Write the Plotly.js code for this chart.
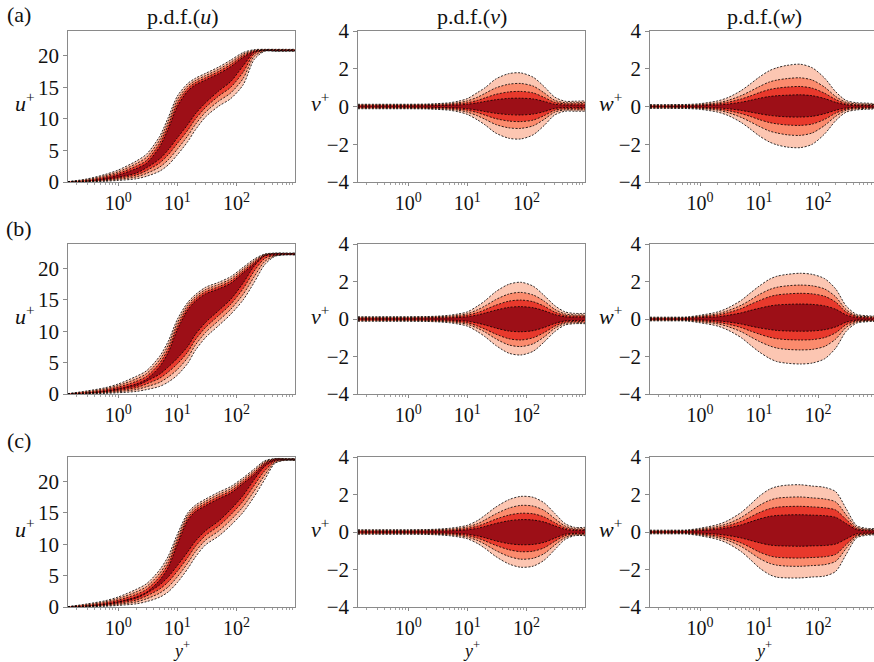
<!DOCTYPE html>
<html>
<head>
<meta charset="utf-8">
<script src="https://cdn.plot.ly/plotly-3.0.1.min.js"></script>
<style>html,body{margin:0;padding:0;background:#fff;}#chart{width:874px;height:662px;}</style>
</head>
<body>
<div id="chart"></div>
<script>
// wall distance grid y+
const yPlus = [0.14,0.3,0.6,1,2,3,5,7,10,15,20,30,50,80,130,200,300,450,650,1000];

// ---- row (a) ----
const au_hi4 = [0.05,0.5,1.2,1.9,3.3,4.4,7.2,10.2,13.6,15.6,16.4,17.2,18.2,19.3,20.5,20.95,21.0,21.0,21.0,21.0];
const au_hi3 = [0.05,0.38,1.0,1.62,2.9,3.9,6.65,9.6,13.05,15.2,16.05,16.85,17.85,18.95,20.25,20.85,20.96,20.96,20.96,20.96];
const au_hi2 = [0.05,0.26,0.8,1.35,2.5,3.4,6.1,9.0,12.5,14.8,15.7,16.5,17.5,18.6,20.0,20.75,20.92,20.92,20.92,20.92];
const au_hi1 = [0.05,0.16,0.6,1.1,2.1,2.95,5.55,8.4,11.95,14.4,15.35,16.15,17.15,18.25,19.75,20.65,20.88,20.88,20.88,20.88];
const au_lo4 = [0,0.03,0.12,0.25,0.5,0.9,1.7,2.7,4.3,6.4,8.2,10.3,12.0,13.2,15.4,19.4,20.7,20.7,20.7,20.7];
const au_lo3 = [0,0.07,0.22,0.42,0.8,1.35,2.35,3.5,5.2,7.3,9.05,11.05,12.8,14.1,16.4,19.9,20.75,20.74,20.74,20.74];
const au_lo2 = [0,0.11,0.32,0.59,1.1,1.8,3.0,4.3,6.1,8.2,9.9,11.8,13.6,15.0,17.4,20.3,20.8,20.78,20.78,20.78];
const au_lo1 = [0,0.15,0.42,0.76,1.4,2.25,3.65,5.1,7.0,9.1,10.75,12.55,14.4,15.9,18.4,20.55,20.84,20.82,20.82,20.82];

const av_hi4 = [0.12,0.12,0.12,0.12,0.13,0.15,0.2,0.28,0.42,0.75,1.0,1.45,1.74,1.78,1.55,1.05,0.5,0.28,0.28,0.3];
const av_hi3 = [0.09,0.09,0.09,0.09,0.1,0.12,0.15,0.2,0.3,0.5,0.7,0.98,1.18,1.22,1.08,0.72,0.33,0.2,0.2,0.22];
const av_hi2 = [0.06,0.06,0.06,0.06,0.07,0.08,0.1,0.14,0.2,0.33,0.46,0.64,0.77,0.8,0.72,0.48,0.22,0.14,0.14,0.15];
const av_hi1 = [0.03,0.03,0.03,0.03,0.04,0.05,0.06,0.08,0.12,0.2,0.27,0.36,0.43,0.44,0.4,0.27,0.12,0.08,0.08,0.08];
const av_lo4 = [-0.12,-0.12,-0.12,-0.12,-0.13,-0.15,-0.2,-0.28,-0.42,-0.72,-0.98,-1.4,-1.68,-1.72,-1.5,-1.0,-0.45,-0.25,-0.25,-0.25];
const av_lo3 = [-0.09,-0.09,-0.09,-0.09,-0.1,-0.12,-0.15,-0.2,-0.3,-0.5,-0.68,-0.95,-1.13,-1.16,-1.02,-0.68,-0.3,-0.18,-0.18,-0.18];
const av_lo2 = [-0.06,-0.06,-0.06,-0.06,-0.07,-0.08,-0.1,-0.14,-0.2,-0.33,-0.46,-0.64,-0.77,-0.8,-0.72,-0.48,-0.2,-0.12,-0.12,-0.12];
const av_lo1 = [-0.03,-0.03,-0.03,-0.03,-0.04,-0.05,-0.06,-0.08,-0.12,-0.2,-0.27,-0.36,-0.43,-0.45,-0.4,-0.27,-0.1,-0.06,-0.06,-0.06];

const aw_hi4 = [0.1,0.1,0.11,0.15,0.3,0.48,0.85,1.18,1.55,1.9,2.05,2.18,2.24,2.05,1.5,0.78,0.32,0.2,0.18,0.15];
const aw_hi3 = [0.07,0.07,0.08,0.1,0.2,0.33,0.58,0.8,1.05,1.3,1.4,1.48,1.52,1.4,1.02,0.53,0.22,0.14,0.12,0.1];
const aw_hi2 = [0.04,0.04,0.05,0.07,0.14,0.23,0.4,0.55,0.73,0.9,0.97,1.03,1.06,0.97,0.7,0.37,0.15,0.09,0.08,0.07];
const aw_hi1 = [0.02,0.02,0.03,0.04,0.08,0.13,0.23,0.32,0.43,0.53,0.57,0.6,0.62,0.57,0.42,0.22,0.09,0.05,0.05,0.04];
const aw_lo4 = [-0.1,-0.1,-0.11,-0.15,-0.3,-0.48,-0.85,-1.18,-1.55,-1.88,-2.03,-2.15,-2.18,-2.0,-1.45,-0.75,-0.3,-0.18,-0.15,-0.12];
const aw_lo3 = [-0.07,-0.07,-0.08,-0.1,-0.2,-0.33,-0.58,-0.8,-1.05,-1.3,-1.4,-1.5,-1.53,-1.4,-1.0,-0.52,-0.2,-0.12,-0.1,-0.08];
const aw_lo2 = [-0.04,-0.04,-0.05,-0.07,-0.14,-0.22,-0.38,-0.52,-0.69,-0.85,-0.92,-0.98,-1.0,-0.93,-0.68,-0.35,-0.14,-0.08,-0.07,-0.06];
const aw_lo1 = [-0.02,-0.02,-0.03,-0.04,-0.08,-0.12,-0.21,-0.29,-0.38,-0.47,-0.51,-0.55,-0.56,-0.52,-0.38,-0.2,-0.08,-0.04,-0.04,-0.03];

// ---- row (b) ----
const bu_hi4 = [0.05,0.5,1.0,1.6,2.8,3.7,6.0,8.4,11.9,14.6,15.8,17.0,17.8,18.7,20.2,21.5,22.3,22.45,22.45,22.45];
const bu_hi3 = [0.05,0.38,0.82,1.35,2.4,3.25,5.45,7.8,11.35,14.2,15.45,16.65,17.45,18.35,19.9,21.25,22.22,22.42,22.42,22.42];
const bu_hi2 = [0.05,0.26,0.64,1.1,2.0,2.8,4.9,7.2,10.8,13.8,15.1,16.3,17.1,18.0,19.6,21.0,22.14,22.38,22.38,22.38];
const bu_hi1 = [0.05,0.16,0.46,0.85,1.6,2.35,4.35,6.6,10.25,13.4,14.75,15.95,16.75,17.65,19.3,20.75,22.06,22.34,22.34,22.34];
const bu_lo4 = [0,0.03,0.1,0.2,0.4,0.7,1.2,1.9,3.0,4.9,6.9,9.0,10.9,12.7,15.0,17.8,20.6,21.95,22.15,22.15];
const bu_lo3 = [0,0.07,0.2,0.37,0.7,1.15,1.85,2.7,3.9,5.8,7.75,9.8,11.7,13.5,15.9,18.7,21.1,22.02,22.19,22.19];
const bu_lo2 = [0,0.11,0.3,0.54,1.0,1.6,2.5,3.5,4.8,6.7,8.6,10.6,12.5,14.3,16.8,19.6,21.6,22.09,22.23,22.23];
const bu_lo1 = [0,0.15,0.4,0.71,1.3,2.05,3.15,4.3,5.7,7.6,9.45,11.4,13.3,15.1,17.7,20.4,22.0,22.16,22.27,22.27];

const bv_hi4 = [0.12,0.12,0.12,0.12,0.13,0.15,0.2,0.27,0.38,0.7,0.98,1.45,1.85,1.96,1.75,1.25,0.72,0.38,0.3,0.3];
const bv_hi3 = [0.09,0.09,0.09,0.09,0.1,0.12,0.15,0.2,0.28,0.5,0.7,1.03,1.33,1.42,1.28,0.95,0.52,0.27,0.22,0.22];
const bv_hi2 = [0.06,0.06,0.06,0.06,0.07,0.08,0.1,0.14,0.2,0.35,0.5,0.73,0.95,1.01,0.92,0.68,0.37,0.19,0.16,0.16];
const bv_hi1 = [0.03,0.03,0.03,0.03,0.04,0.05,0.06,0.08,0.12,0.22,0.32,0.47,0.62,0.66,0.6,0.44,0.24,0.12,0.1,0.1];
const bv_lo4 = [-0.12,-0.12,-0.12,-0.12,-0.13,-0.15,-0.2,-0.27,-0.38,-0.68,-0.95,-1.4,-1.82,-1.92,-1.72,-1.22,-0.68,-0.32,-0.25,-0.25];
const bv_lo3 = [-0.09,-0.09,-0.09,-0.09,-0.1,-0.12,-0.15,-0.2,-0.28,-0.5,-0.7,-1.05,-1.38,-1.47,-1.32,-0.95,-0.5,-0.24,-0.2,-0.2];
const bv_lo2 = [-0.06,-0.06,-0.06,-0.06,-0.07,-0.08,-0.1,-0.14,-0.2,-0.38,-0.54,-0.8,-1.05,-1.12,-1.0,-0.72,-0.38,-0.17,-0.14,-0.14];
const bv_lo1 = [-0.03,-0.03,-0.03,-0.03,-0.04,-0.05,-0.06,-0.08,-0.12,-0.22,-0.32,-0.48,-0.64,-0.68,-0.62,-0.45,-0.24,-0.1,-0.08,-0.08];

const bw_hi4 = [0.1,0.1,0.11,0.2,0.38,0.6,1.0,1.37,1.75,2.12,2.28,2.38,2.44,2.38,2.15,1.6,0.7,0.25,0.18,0.15];
const bw_hi3 = [0.07,0.07,0.08,0.15,0.28,0.45,0.74,1.0,1.3,1.57,1.69,1.77,1.81,1.77,1.6,1.18,0.5,0.18,0.13,0.11];
const bw_hi2 = [0.04,0.04,0.06,0.11,0.21,0.34,0.56,0.77,0.98,1.19,1.28,1.34,1.37,1.34,1.21,0.9,0.37,0.14,0.1,0.08];
const bw_hi1 = [0.02,0.02,0.03,0.07,0.12,0.2,0.33,0.45,0.57,0.69,0.75,0.78,0.8,0.78,0.7,0.52,0.22,0.08,0.06,0.05];
const bw_lo4 = [-0.1,-0.1,-0.11,-0.2,-0.38,-0.6,-1.0,-1.37,-1.75,-2.1,-2.27,-2.36,-2.4,-2.35,-2.12,-1.55,-0.66,-0.22,-0.15,-0.12];
const bw_lo3 = [-0.07,-0.07,-0.08,-0.14,-0.26,-0.41,-0.68,-0.93,-1.19,-1.43,-1.55,-1.62,-1.65,-1.62,-1.46,-1.07,-0.45,-0.16,-0.11,-0.09];
const bw_lo2 = [-0.04,-0.04,-0.05,-0.09,-0.18,-0.28,-0.46,-0.63,-0.8,-0.97,-1.05,-1.1,-1.12,-1.1,-0.99,-0.73,-0.3,-0.11,-0.08,-0.06];
const bw_lo1 = [-0.02,-0.02,-0.03,-0.05,-0.1,-0.16,-0.27,-0.37,-0.47,-0.56,-0.61,-0.64,-0.65,-0.64,-0.57,-0.42,-0.17,-0.06,-0.05,-0.04];

// ---- row (c) ----
const cu_hi4 = [0.05,0.5,1.0,1.6,2.8,3.7,5.9,8.1,11.6,15.0,16.2,17.2,18.3,19.2,20.6,22.0,23.3,23.65,23.65,23.65];
const cu_hi3 = [0.05,0.38,0.82,1.35,2.4,3.25,5.35,7.5,11.05,14.6,15.85,16.85,17.95,18.85,20.3,21.7,23.12,23.61,23.61,23.61];
const cu_hi2 = [0.05,0.26,0.64,1.1,2.0,2.8,4.8,6.9,10.5,14.2,15.5,16.5,17.6,18.5,20.0,21.4,22.94,23.57,23.57,23.57];
const cu_hi1 = [0.05,0.16,0.46,0.85,1.6,2.35,4.25,6.3,9.95,13.8,15.15,16.15,17.25,18.15,19.7,21.1,22.76,23.53,23.53,23.53];
const cu_lo4 = [0,0.03,0.12,0.25,0.5,0.85,1.55,2.4,3.9,6.1,7.9,9.9,11.3,13.0,15.1,17.6,20.3,22.9,23.35,23.35];
const cu_lo3 = [0,0.07,0.22,0.42,0.8,1.3,2.2,3.2,4.8,7.0,8.75,10.65,12.1,13.85,16.0,18.5,21.0,23.05,23.39,23.39];
const cu_lo2 = [0,0.11,0.32,0.59,1.1,1.75,2.85,4.0,5.7,7.9,9.6,11.4,12.9,14.7,16.9,19.4,21.7,23.2,23.43,23.43];
const cu_lo1 = [0,0.15,0.42,0.76,1.4,2.2,3.5,4.8,6.6,8.8,10.45,12.15,13.7,15.55,17.8,20.3,22.4,23.35,23.47,23.47];

const cv_hi4 = [0.12,0.12,0.12,0.12,0.13,0.15,0.2,0.26,0.36,0.62,0.9,1.32,1.72,1.9,1.85,1.55,1.0,0.45,0.25,0.25];
const cv_hi3 = [0.09,0.09,0.09,0.09,0.1,0.12,0.15,0.19,0.27,0.45,0.65,0.96,1.27,1.42,1.38,1.15,0.72,0.32,0.18,0.18];
const cv_hi2 = [0.06,0.06,0.06,0.06,0.07,0.08,0.1,0.13,0.19,0.32,0.46,0.68,0.9,1.0,0.97,0.8,0.5,0.22,0.13,0.13];
const cv_hi1 = [0.03,0.03,0.03,0.03,0.04,0.05,0.06,0.08,0.12,0.2,0.3,0.45,0.6,0.66,0.64,0.53,0.33,0.14,0.08,0.08];
const cv_lo4 = [-0.12,-0.12,-0.12,-0.12,-0.13,-0.15,-0.2,-0.26,-0.36,-0.62,-0.88,-1.3,-1.7,-1.88,-1.82,-1.5,-0.95,-0.4,-0.2,-0.2];
const cv_lo3 = [-0.09,-0.09,-0.09,-0.09,-0.1,-0.12,-0.15,-0.19,-0.27,-0.46,-0.66,-0.98,-1.3,-1.45,-1.4,-1.15,-0.7,-0.3,-0.16,-0.16];
const cv_lo2 = [-0.06,-0.06,-0.06,-0.06,-0.07,-0.08,-0.1,-0.13,-0.19,-0.33,-0.48,-0.71,-0.94,-1.05,-1.02,-0.84,-0.5,-0.2,-0.11,-0.11];
const cv_lo1 = [-0.03,-0.03,-0.03,-0.03,-0.04,-0.05,-0.06,-0.08,-0.12,-0.21,-0.31,-0.47,-0.62,-0.68,-0.66,-0.55,-0.33,-0.12,-0.07,-0.07];

const cw_hi4 = [0.1,0.1,0.11,0.2,0.4,0.62,1.05,1.45,1.9,2.28,2.42,2.5,2.52,2.45,2.38,2.15,1.25,0.35,0.2,0.18];
const cw_hi3 = [0.07,0.07,0.08,0.15,0.3,0.46,0.78,1.08,1.41,1.69,1.8,1.85,1.87,1.82,1.76,1.6,0.92,0.26,0.15,0.13];
const cw_hi2 = [0.04,0.04,0.06,0.11,0.22,0.34,0.57,0.79,1.03,1.24,1.32,1.36,1.37,1.34,1.29,1.17,0.67,0.19,0.11,0.1];
const cw_hi1 = [0.02,0.02,0.04,0.07,0.15,0.23,0.38,0.53,0.69,0.83,0.88,0.91,0.92,0.9,0.87,0.78,0.45,0.13,0.07,0.06];
const cw_lo4 = [-0.1,-0.1,-0.11,-0.2,-0.4,-0.62,-1.05,-1.45,-1.9,-2.27,-2.41,-2.45,-2.45,-2.4,-2.35,-2.1,-1.2,-0.32,-0.18,-0.15];
const cw_lo3 = [-0.07,-0.07,-0.08,-0.15,-0.3,-0.46,-0.78,-1.07,-1.4,-1.67,-1.77,-1.82,-1.83,-1.79,-1.74,-1.56,-0.88,-0.24,-0.13,-0.11];
const cw_lo2 = [-0.04,-0.04,-0.05,-0.11,-0.22,-0.35,-0.59,-0.81,-1.06,-1.27,-1.35,-1.38,-1.39,-1.36,-1.32,-1.19,-0.67,-0.18,-0.1,-0.08];
const cw_lo1 = [-0.02,-0.02,-0.03,-0.06,-0.12,-0.19,-0.32,-0.44,-0.57,-0.69,-0.73,-0.75,-0.76,-0.74,-0.72,-0.64,-0.37,-0.1,-0.06,-0.05];

// labels
const columnTitles = ['p.d.f.(<i>u</i>)', 'p.d.f.(<i>v</i>)', 'p.d.f.(<i>w</i>)'];
const yLabels = ['<i>u</i><sup>+</sup>', '<i>v</i><sup>+</sup>', '<i>w</i><sup>+</sup>'];
const xLabel = '<i>y</i><sup>+</sup>';
const rowLabels = ['(a)', '(b)', '(c)'];
const xTickVals = [1, 10, 100];
const xTickText = ['10<sup>0</sup>', '10<sup>1</sup>', '10<sup>2</sup>'];
const xMinorVals = [0.2,0.3,0.4,0.5,0.6,0.7,0.8,0.9,2,3,4,5,6,7,8,9,20,30,40,50,60,70,80,90,200,300,400,500,600,700,800,900];
const bandColors = ['#fcc6b2', '#fb8b6d', '#e8392c', '#9d0f17'];

// panels: bands outer..inner as [lo, hi]
const panels = [
  [[au_lo4,au_hi4],[au_lo3,au_hi3],[au_lo2,au_hi2],[au_lo1,au_hi1]],
  [[av_lo4,av_hi4],[av_lo3,av_hi3],[av_lo2,av_hi2],[av_lo1,av_hi1]],
  [[aw_lo4,aw_hi4],[aw_lo3,aw_hi3],[aw_lo2,aw_hi2],[aw_lo1,aw_hi1]],
  [[bu_lo4,bu_hi4],[bu_lo3,bu_hi3],[bu_lo2,bu_hi2],[bu_lo1,bu_hi1]],
  [[bv_lo4,bv_hi4],[bv_lo3,bv_hi3],[bv_lo2,bv_hi2],[bv_lo1,bv_hi1]],
  [[bw_lo4,bw_hi4],[bw_lo3,bw_hi3],[bw_lo2,bw_hi2],[bw_lo1,bw_hi1]],
  [[cu_lo4,cu_hi4],[cu_lo3,cu_hi3],[cu_lo2,cu_hi2],[cu_lo1,cu_hi1]],
  [[cv_lo4,cv_hi4],[cv_lo3,cv_hi3],[cv_lo2,cv_hi2],[cv_lo1,cv_hi1]],
  [[cw_lo4,cw_hi4],[cw_lo3,cw_hi3],[cw_lo2,cw_hi2],[cw_lo1,cw_hi1]]
];

const W = 874, H = 662;
const colPx = [[68, 295], [358, 585], [650, 874]];
const rowPx = [[31, 182], [244, 394], [457, 607]];
const FONT = 'Liberation Serif';
const TICK_SIZE = 20;
const LABEL_SIZE = 22;

const traces = [];
const dashLine = {color: 'rgba(0,0,0,0.9)', width: 0.9, dash: '2px,1.5px', shape: 'spline', smoothing: 0.8};
panels.forEach((bands, i) => {
  const n = i + 1;
  const xa = 'x' + (n === 1 ? '' : n), ya = 'y' + (n === 1 ? '' : n);
  bands.forEach((b, k) => {
    traces.push({x: yPlus, y: b[0], xaxis: xa, yaxis: ya, type: 'scatter', mode: 'lines',
      line: dashLine, fill: 'none', hoverinfo: 'skip', showlegend: false});
    traces.push({x: yPlus, y: b[1], xaxis: xa, yaxis: ya, type: 'scatter', mode: 'lines',
      line: dashLine, fill: 'tonexty', fillcolor: bandColors[k], hoverinfo: 'skip', showlegend: false});
  });
});

const layout = {
  width: W, height: H,
  margin: {l: 0, r: 0, t: 0, b: 0},
  paper_bgcolor: '#fff', plot_bgcolor: '#fff',
  showlegend: false, hovermode: false,
  font: {family: FONT, size: TICK_SIZE, color: '#111'},
  annotations: []
};
const axColor = '#8a8a8a';
for (let r = 0; r < 3; r++) {
  for (let c = 0; c < 3; c++) {
    const n = r * 3 + c + 1;
    const sx = n === 1 ? '' : n;
    layout['xaxis' + sx] = {
      domain: [colPx[c][0] / W, colPx[c][1] / W],
      type: 'log', range: [-0.85, c === 2 ? 2.95 : 2.99],
      anchor: 'y' + sx,
      tickmode: 'array', tickvals: xTickVals, ticktext: xTickText,
      ticks: 'outside', ticklen: 3, tickcolor: axColor, tickwidth: 1,
      minor: {tickmode: 'array', tickvals: xMinorVals, ticks: 'outside', ticklen: 2, tickcolor: axColor, tickwidth: 0.8},
      showline: true, mirror: true, linecolor: axColor, linewidth: 1.2,
      showgrid: false, zeroline: false,
      tickfont: {family: FONT, size: TICK_SIZE, color: '#111'}
    };
    layout['yaxis' + sx] = {
      domain: [1 - rowPx[r][1] / H, 1 - rowPx[r][0] / H],
      range: c === 0 ? [0, 23.9] : [-4, 4],
      tickmode: 'linear', tick0: c === 0 ? 0 : -4, dtick: c === 0 ? 5 : 2,
      anchor: 'x' + sx,
      ticks: 'outside', ticklen: 3.5, tickcolor: axColor, tickwidth: 1,
      showline: true, mirror: true, linecolor: axColor, linewidth: 1.2,
      showgrid: false, zeroline: false,
      tickfont: {family: FONT, size: TICK_SIZE + 1, color: '#111'}
    };
    const ymid = (rowPx[r][0] + rowPx[r][1]) / 2 - 4;
    const ylx = [25, 320, 610][c];
    layout.annotations.push({text: yLabels[c], xref: 'paper', yref: 'paper',
      x: ylx / W, y: 1 - ymid / H, xanchor: 'center', yanchor: 'middle', showarrow: false,
      font: {family: FONT, size: LABEL_SIZE, color: '#111'}});
    if (r === 0) {
      const cx = [182, 471.5, 764][c];
      layout.annotations.push({text: columnTitles[c], xref: 'paper', yref: 'paper',
        x: cx / W, y: 1 - 17 / H, xanchor: 'center', yanchor: 'middle', showarrow: false,
        font: {family: FONT, size: LABEL_SIZE, color: '#111'}});
    }
    if (r === 2) {
      const cx = [181, 471, 763][c];
      layout.annotations.push({text: xLabel, xref: 'paper', yref: 'paper',
        x: cx / W, y: 0, xanchor: 'center', yanchor: 'bottom', showarrow: false,
        borderpad: 0, font: {family: FONT, size: 18, color: '#111'}});
    }
  }
  layout.annotations.push({text: rowLabels[r], xref: 'paper', yref: 'paper',
    x: 19 / W, y: 1 - [15, 228, 440][r] / H, xanchor: 'center', yanchor: 'middle', showarrow: false,
    font: {family: FONT, size: LABEL_SIZE, color: '#111'}});
}

Plotly.newPlot('chart', traces, layout, {displayModeBar: false, staticPlot: true});
</script>
</body>
</html>
